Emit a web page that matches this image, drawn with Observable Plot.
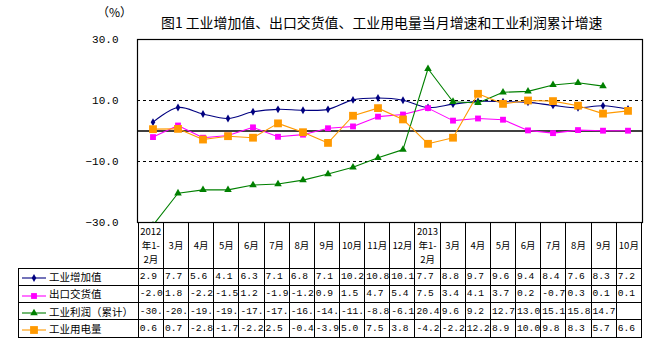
<!DOCTYPE html>
<html>
<head>
<meta charset="utf-8">
<script src="https://cdn.jsdelivr.net/npm/d3@7"></script>
<script src="https://cdn.jsdelivr.net/npm/@observablehq/plot@0.6"></script>
<style>
  html, body { margin: 0; padding: 0; background: #fff; }
  #wrap { position: relative; width: 657px; height: 343px; overflow: hidden; font-family: "Noto Sans CJK SC", sans-serif; }
  #unit { position: absolute; left: 97px; top: 4px; font-size: 12px; line-height: 16px; color: #000; }
  #title { position: absolute; left: 161px; top: 13px; font-size: 13.9px; line-height: 18px; color: #000; white-space: nowrap; }
  #chart { position: absolute; left: 0; top: 0; }
  #tbl { position: absolute; left: 18px; top: 222px; border-collapse: collapse; table-layout: fixed; width: 624px; }
  #tbl td { border: 1px solid #000; padding: 0; overflow: hidden; white-space: nowrap; color: #000; }
  #tbl tr.head td { height: 44.5px; text-align: center; font-size: 9.5px; line-height: 14px; }
  #tbl tr.head td.blank { border: none; border-right: 1px solid #000; }
  #tbl tr.body td { height: 16.3px; font-family: "Liberation Mono", monospace; font-size: 9.6px; line-height: 15px; padding-left: 1px; }
  #tbl tr.body td.leg { font-family: "Noto Sans CJK SC", sans-serif; font-size: 10.5px; padding-left: 3px; }
  #tbl td.leg svg { vertical-align: middle; margin-right: 3px; }
</style>
</head>
<body>
<div id="wrap">
  <div id="chart"></div>
  <div id="unit">（%）</div>
  <div id="title">图1 工业增加值、出口交货值、工业用电量当月增速和工业利润累计增速</div>
  <table id="tbl"></table>
</div>
<script>
// ---- data ----
const periods = ["2012-02","2012-03","2012-04","2012-05","2012-06","2012-07","2012-08","2012-09","2012-10","2012-11","2012-12",
                 "2013-02","2013-03","2013-04","2013-05","2013-06","2013-07","2013-08","2013-09","2013-10"];
const periodLabels = ["2012\n年1-\n2月","3月","4月","5月","6月","7月","8月","9月","10月","11月","12月",
                      "2013\n年1-\n2月","3月","4月","5月","6月","7月","8月","9月","10月"];
const seriesNames = ["工业增加值","出口交货值","工业利润（累计）","工业用电量"];
const valueAdded = [2.9,7.7,5.6,4.1,6.3,7.1,6.8,7.1,10.2,10.8,10.1,7.7,8.8,9.7,9.6,9.4,8.4,7.6,8.3,7.2];
const exportDelivery = [-2.0,1.8,-2.2,-1.5,1.2,-1.9,-1.2,0.9,1.5,4.7,5.4,7.5,3.4,4.1,3.7,0.2,-0.7,0.3,0.1,0.1];
const profit = [-30.9,-20.4,-19.3,-19.3,-17.7,-17.4,-16.1,-14.1,-11.9,-8.8,-6.1,20.4,9.6,9.2,12.7,13.0,15.1,15.8,14.7,null];
const electricity = [0.6,0.7,-2.8,-1.7,-2.2,2.5,-0.4,-3.9,5.0,7.5,3.8,-4.2,-2.2,12.2,8.9,10.0,9.8,8.3,5.7,6.6];
const yTicks = [-30,-10,10,30];

const seriesValues = [valueAdded, exportDelivery, profit, electricity];
const colors = ["#000080","#FF00FF","#008000","#FF9900"];
const symbols = ["diamond","square","triangle","square"];
const radii = [2.4,3.3,2.8,4.4];

function rows(i) {
  return periods.map((p, j) => ({period: p, value: seriesValues[i][j]})).filter(d => d.value != null);
}

const marks = [
  Plot.ruleY([-10, 10], {stroke: "#000", strokeDasharray: "3,3", strokeWidth: 1}),
  Plot.ruleY([0], {stroke: "#000", strokeWidth: 1.3}),
  Plot.frame({stroke: "#000", strokeWidth: 1.2}),
  Plot.axisY({ticks: yTicks, tickSize: 0, tickPadding: 19, tickFormat: d3.format(".1f"), label: null,
              fontFamily: "Liberation Mono, monospace", fontSize: 11, fill: "#000"})
];
seriesValues.forEach((vals, i) => {
  marks.push(Plot.line(rows(i), {x: "period", y: "value", stroke: colors[i], strokeWidth: 1.1,
                                 curve: i === 0 ? "catmull-rom" : "linear", clip: i === 2}));
});
seriesValues.forEach((vals, i) => {
  marks.push(Plot.dot(rows(i), {x: "period", y: "value", symbol: () => symbols[i], fill: colors[i],
                                stroke: "none", r: radii[i], clip: i === 2}));
});

const chart = Plot.plot({
  width: 657,
  height: 223,
  marginLeft: 137,
  marginRight: 15,
  marginTop: 39,
  marginBottom: 1,
  style: {background: "transparent", overflow: "visible"},
  x: {type: "band", domain: periods, padding: 0, axis: null},
  y: {domain: [-30, 30], axis: null},
  symbol: {type: "identity"},
  marks
});
document.getElementById("chart").appendChild(chart);

// ---- data table (category header + values) ----
const tbl = document.getElementById("tbl");
const xScale = chart.scale("x");
const colW = xScale.bandwidth;
const cg = document.createElement("colgroup");
const c0 = document.createElement("col"); c0.style.width = (xScale.range[0] - 18) + "px"; cg.appendChild(c0);
periods.forEach(() => { const c = document.createElement("col"); c.style.width = colW + "px"; cg.appendChild(c); });
tbl.appendChild(cg);

const head = document.createElement("tr"); head.className = "head";
const blank = document.createElement("td"); blank.className = "blank"; head.appendChild(blank);
periodLabels.forEach(l => {
  const td = document.createElement("td");
  td.innerHTML = l.split("\n").join("<br>");
  head.appendChild(td);
});
tbl.appendChild(head);

function swatch(i) {
  const ns = "http://www.w3.org/2000/svg";
  const s = document.createElementNS(ns, "svg");
  s.setAttribute("width", 24); s.setAttribute("height", 12);
  const ln = document.createElementNS(ns, "line");
  ln.setAttribute("x1", 0); ln.setAttribute("x2", 24); ln.setAttribute("y1", 6); ln.setAttribute("y2", 6);
  ln.setAttribute("stroke", colors[i]); ln.setAttribute("stroke-width", 1.1);
  s.appendChild(ln);
  const p = document.createElementNS(ns, "path");
  const sym = {diamond: d3.symbolDiamond, square: d3.symbolSquare, triangle: d3.symbolTriangle}[symbols[i]];
  p.setAttribute("d", d3.symbol(sym, Math.PI * radii[i] * radii[i])());
  p.setAttribute("transform", "translate(12,6)");
  p.setAttribute("fill", colors[i]);
  s.appendChild(p);
  return s;
}

seriesNames.forEach((name, i) => {
  const tr = document.createElement("tr"); tr.className = "body";
  const lg = document.createElement("td"); lg.className = "leg";
  lg.appendChild(swatch(i));
  lg.appendChild(document.createTextNode(name));
  tr.appendChild(lg);
  seriesValues[i].forEach(v => {
    const td = document.createElement("td");
    td.textContent = v == null ? "" : v.toFixed(1).slice(0, 4);
    tr.appendChild(td);
  });
  tbl.appendChild(tr);
});
</script>
</body>
</html>
